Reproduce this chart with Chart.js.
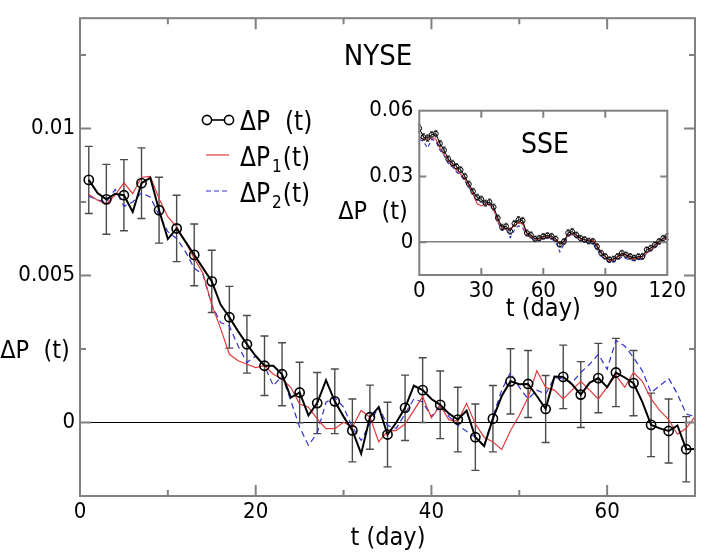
<!DOCTYPE html>
<html><head><meta charset="utf-8">
<script src="https://cdn.jsdelivr.net/npm/chart.js@4.4.1/dist/chart.umd.min.js"></script>
<style>
html,body{margin:0;padding:0;background:#fff;}
#wrap{position:relative;width:714px;height:552px;overflow:hidden;}
#main{position:absolute;left:0;top:0;}
#inset{position:absolute;left:320px;top:90px;}
</style></head><body>
<div id="wrap"><canvas id="main" width="714" height="552"></canvas><canvas id="inset" width="380" height="245"></canvas></div>
<script>
// ---------------- DATA: NYSE (main) ----------------
const days = [1,2,3,4,5,6,7,8,9,10,11,12,13,14,15,16,17,18,19,20,21,22,23,24,25,26,27,28,29,30,31,32,33,34,35,36,37,38,39,40,41,42,43,44,45,46,47,48,49,50,51,52,53,54,55,56,57,58,59,60,61,62,63,64,65,66,67,68,69,70];
const dP = [0.00825,0.0078,0.00759,0.00778,0.00773,0.00716,0.00814,0.00832,0.00722,0.00624,
            0.0066,0.00615,0.0057,0.00525,0.0048,0.00401,0.00358,0.0031,0.00266,0.00226,
            0.00193,0.00193,0.00164,0.00085,0.00102,0.00024,0.00066,0.00144,0.00072,0.0002,
            -0.00027,-0.00106,0.00018,0.00052,-0.00041,0.0,0.0005,0.00125,0.0011,0.0008,
            0.0006,0.0003,0.0001,0.0004,-0.0005,-0.0008,0.00013,0.0009,0.0014,0.0013,
            0.00131,0.0009,0.00046,0.00156,0.00155,0.0013,0.00095,0.00135,0.00151,0.0012,
            0.0017,0.00153,0.00134,0.0007,-0.00008,-0.0002,-0.00029,-0.0001,-0.00091,-0.0009];
const dP1 = [0.00775,0.00756,0.00744,0.00773,0.00815,0.00778,0.00834,0.00837,0.00761,0.00699,
             0.00665,0.00615,0.00558,0.00508,0.004,0.0032,0.00232,0.0021,0.00198,0.00187,
             0.00193,0.00164,0.00148,0.00119,0.00063,0.00052,0.00012,-0.00021,-0.00021,0.00001,
             -0.00016,0.00041,0.00018,-0.00066,-0.0003,-0.00027,-0.00005,0.00041,0.00088,0.00016,
             0.00057,0.00009,0.00005,0.00065,-0.00005,-0.0005,-0.00066,-0.00092,-0.00027,0.00024,
             0.00085,0.00176,0.0012,0.0011,0.0008,0.0011,0.0014,0.0011,0.0008,0.0012,
             0.0016,0.0012,0.0017,0.0014,0.0008,0.0004,0.0001,-0.0004,-0.0002,0.0002];
const dP2 = [0.0077,0.00757,0.0075,0.00793,0.00735,0.0075,0.00781,0.00767,0.00705,0.00649,
             0.00626,0.00581,0.00525,0.00502,0.004,0.0034,0.00328,0.0026,0.00204,0.00226,
             0.00193,0.00125,0.00159,0.00074,-0.00016,-0.00078,-0.00036,0.00069,0.00085,0.00052,
             -0.00016,-0.00061,-0.00004,0.00054,-0.0001,-0.0002,0.0003,0.0008,0.0007,0.0002,
             0.0006,0.0002,-0.0001,-0.0003,-0.0005,-0.0008,0.0002,0.0011,0.0017,0.0012,
             0.0008,0.0011,0.00097,0.00153,0.00148,0.00136,0.0017,0.00198,0.00232,0.00181,
             0.00279,0.0026,0.00221,0.00176,0.00102,0.00125,0.0015,0.00097,0.00029,0.0002];
const circleDays = [1,3,5,7,9,11,13,15,17,19,21,23,25,27,29,31,33,35,37,39,41,43,45,47,49,51,53,55,57,59,61,63,65,67,69];
const dPErr = [0.00114,0.00119,0.00121,0.0012,0.00112,0.00113,0.00105,0.00106,0.00105,0.00098,
               0.00101,0.00107,0.00103,0.00104,0.0011,0.00107,0.00109,0.0011,0.00111,0.0011,
               0.00115,0.0011,0.00113,0.00113,0.00111,0.00114,0.00114,0.00108,0.00112,0.00118,
               0.00116,0.00111,0.00108,0.00109,0.00111];
const xTickVals = [0,10,20,30,40,50,60,70];
const xTickLabels = ['0','','20','','40','','60',''];
const yTickVals = [-0.0025,0,0.0025,0.005,0.0075,0.01,0.0125];
const yTickLabels = ['','0','','0.005','','0.01',''];

// ---------------- DATA: SSE (inset) ----------------
const sseDays = [0,2,4,6,8,10,12,14,16,18,20,22,24,26,28,30,32,34,36,38,40,42,44,46,48,50,52,54,56,58,60,62,64,66,68,70,72,74,76,78,80,82,84,86,88,90,92,94,96,98,100,102,104,106,108,110,112,114,116,118,120];
const sse = [0.052,0.048,0.0475,0.049,0.0495,0.045,0.042,0.038,0.036,0.0345,
             0.033,0.03,0.0265,0.0232,0.0205,0.0196,0.0178,0.0183,0.016,0.011,
             0.0068,0.0072,0.005,0.0085,0.0102,0.0098,0.0042,0.0033,0.0015,0.0018,
             0.0026,0.003,0.0027,0.0015,-0.001,0.0003,0.0042,0.0048,0.0033,0.0018,
             0.0012,0.0005,0.0004,-0.002,-0.005,-0.0065,-0.008,-0.0077,-0.0065,-0.005,
             -0.0058,-0.0065,-0.0072,-0.0066,-0.0065,-0.0035,-0.0027,-0.0012,0.0003,0.0018,
             0.0026];
const sse1 = [0.048,0.047,0.047,0.0475,0.047,0.043,0.04,0.0375,0.035,0.033,
              0.031,0.029,0.026,0.022,0.0175,0.0165,0.0175,0.017,0.0148,0.0095,
              0.0065,0.006,0.0062,0.0075,0.0088,0.0085,0.0035,0.0028,0.0015,0.0015,
              0.0022,0.0026,0.0022,0.001,-0.0005,0.0,0.0032,0.0038,0.003,0.0015,
              0.001,0.0008,0.001,-0.0015,-0.0048,-0.0068,-0.0085,-0.008,-0.0068,-0.0055,
              -0.006,-0.007,-0.0075,-0.007,-0.0068,-0.005,-0.0035,-0.0018,0.0,0.0015,
              0.0022];
const sse2 = [0.047,0.046,0.043,0.047,0.046,0.042,0.0395,0.036,0.0345,0.032,
              0.0305,0.028,0.025,0.022,0.0195,0.0185,0.017,0.0172,0.015,0.009,
              0.0055,0.006,0.002,0.0055,0.0075,0.0065,0.003,0.002,0.0005,0.0008,
              0.0015,0.002,0.0015,0.0,-0.0045,-0.001,0.0028,0.0035,0.002,0.0008,
              0.0,-0.0005,-0.0008,-0.003,-0.0065,-0.008,-0.0095,-0.009,-0.0082,-0.0068,
              -0.0075,-0.0082,-0.0085,-0.008,-0.0078,-0.005,-0.004,-0.0025,-0.0008,0.0008,
              0.0018];
const sseErr = [0.0016,0.0016,0.0015,0.0015,0.0015,0.0015,0.0015,0.0014,0.0014,0.0014,
                0.0014,0.0014,0.0014,0.0014,0.0014,0.0014,0.0014,0.0014,0.0014,0.0014,
                0.0014,0.0014,0.0014,0.0014,0.0015,0.0015,0.0014,0.0014,0.0013,0.0013,
                0.0013,0.0013,0.0013,0.0013,0.0013,0.0013,0.0015,0.0015,0.0013,0.0013,
                0.0013,0.0013,0.0013,0.0013,0.0013,0.0013,0.0013,0.0013,0.0013,0.0013,
                0.0013,0.0013,0.0013,0.0013,0.0014,0.0013,0.0013,0.0013,0.0013,0.0013,
                0.0013];
const sseXTickVals = [0,30,60,90,120];
const sseXTickLabels = ['0','30','60','90','120'];
const sseYTickVals = [0,0.03,0.06];
const sseYTickLabels = ['0','0.03','0.06'];

// ---------------- STYLE ----------------
const FONT = '"DejaVu Sans Condensed", "Liberation Sans", sans-serif';
const FRAME = '#808080';
const ERRC = '#4a4a4a';
const RED = '#e03c3c';
const BLUE = '#3030d0';

function pts(xs, ys){ return xs.map((x,i)=>({x:x, y:ys[i]})); }
function lookup(vals, labels, v){
  for (let i=0;i<vals.length;i++) if (Math.abs(vals[i]-v) < 1e-9) return labels[i];
  return '';
}

function drawFrameTicks(chart, xv, xl, yv, yl, majLen, minLen, lw){
  const ctx = chart.ctx, a = chart.chartArea, xs = chart.scales.x, ys = chart.scales.y;
  ctx.save();
  ctx.strokeStyle = FRAME; ctx.lineWidth = lw;
  ctx.beginPath();
  xv.forEach((v,i)=>{
    const p = xs.getPixelForValue(v);
    if (p <= a.left+1 || p >= a.right-1) return;
    const L = xl[i] !== '' ? majLen : minLen;
    ctx.moveTo(p, a.bottom); ctx.lineTo(p, a.bottom - L);
    ctx.moveTo(p, a.top); ctx.lineTo(p, a.top + L);
  });
  yv.forEach((v,i)=>{
    const p = ys.getPixelForValue(v);
    if (p <= a.top+1 || p >= a.bottom-1) return;
    const L = yl[i] !== '' ? majLen : minLen;
    ctx.moveTo(a.left, p); ctx.lineTo(a.left + L, p);
    ctx.moveTo(a.right, p); ctx.lineTo(a.right - L, p);
  });
  ctx.stroke();
  ctx.strokeRect(a.left, a.top, a.right - a.left, a.bottom - a.top);
  ctx.restore();
}

function drawErrors(chart, xsArr, ysArr, errs, half, lw){
  const ctx = chart.ctx, xs = chart.scales.x, ys = chart.scales.y;
  ctx.save(); ctx.strokeStyle = ERRC; ctx.lineWidth = lw;
  ctx.beginPath();
  xsArr.forEach((d,i)=>{
    const px = xs.getPixelForValue(d);
    const t = ys.getPixelForValue(ysArr[i] + errs[i]);
    const b = ys.getPixelForValue(ysArr[i] - errs[i]);
    ctx.moveTo(px, t); ctx.lineTo(px, b);
    ctx.moveTo(px-half, t); ctx.lineTo(px+half, t);
    ctx.moveTo(px-half, b); ctx.lineTo(px+half, b);
  });
  ctx.stroke(); ctx.restore();
}

const circleVals = circleDays.map(d => dP[days.indexOf(d)]);

// ---------------- MAIN CHART ----------------
const mainDeco = {
  id: 'mainDeco',
  beforeDatasetsDraw(chart){
    drawErrors(chart, circleDays, circleVals, dPErr, 4, 1.4);
  },
  afterDraw(chart){
    drawFrameTicks(chart, xTickVals, xTickLabels, yTickVals, yTickLabels, 11, 6, 2);
    const ctx = chart.ctx;
    ctx.save();
    ctx.fillStyle = '#000';
    ctx.textBaseline = 'alphabetic';
    ctx.textAlign = 'center';
    ctx.font = '29px ' + FONT; ctx.fillText('NYSE', 378, 65);
    ctx.font = '25px ' + FONT; ctx.fillText('t (day)', 388, 545);
    ctx.fillText('\u0394P  (t)', 35, 358);
    // legend
    ctx.textAlign = 'left';
    // entry 1: circle-line-circle
    ctx.strokeStyle = '#000'; ctx.lineWidth = 1.6;
    ctx.beginPath(); ctx.arc(207, 120, 4.6, 0, Math.PI*2); ctx.stroke();
    ctx.beginPath(); ctx.arc(229, 120, 4.6, 0, Math.PI*2); ctx.stroke();
    ctx.beginPath(); ctx.moveTo(211.6, 120); ctx.lineTo(224.4, 120); ctx.stroke();
    ctx.font = '26px ' + FONT; ctx.fillText('\u0394P  (t)', 240, 130);
    // entry 2: red line
    ctx.strokeStyle = RED; ctx.lineWidth = 1.2;
    ctx.beginPath(); ctx.moveTo(206, 155); ctx.lineTo(229, 155); ctx.stroke();
    // entry 3: blue dashed
    ctx.strokeStyle = BLUE; ctx.setLineDash([5,3]);
    ctx.beginPath(); ctx.moveTo(206, 191); ctx.lineTo(229, 191); ctx.stroke();
    ctx.setLineDash([]);
    [['1',166],['2',202]].forEach(([sub, by])=>{
      ctx.font = '26px ' + FONT;
      ctx.fillText('\u0394P', 240, by);
      const w = ctx.measureText('\u0394P').width;
      ctx.font = '17px ' + FONT;
      ctx.fillText(sub, 240 + w + 2, by + 6);
      const w1 = ctx.measureText(sub).width;
      ctx.font = '26px ' + FONT;
      ctx.fillText('(t)', 240 + w + 2 + w1 + 1, by);
    });
    ctx.restore();
  }
};

new Chart(document.getElementById('main'), {
  type: 'line',
  data: {
    datasets: [
      { data: pts(circleDays, circleVals), showLine: false, pointStyle: 'circle',
        pointRadius: 4.6, pointBorderWidth: 1.6, pointBorderColor: '#000',
        pointBackgroundColor: 'rgba(0,0,0,0)', borderColor: '#000' },
      { data: pts(days, dP), borderColor: '#000', borderWidth: 2, pointRadius: 0, tension: 0, fill: false },
      { data: pts(days, dP1), borderColor: RED, borderWidth: 1.2, pointRadius: 0, tension: 0, fill: false },
      { data: pts(days, dP2), borderColor: BLUE, borderWidth: 1.2, borderDash: [6,4], pointRadius: 0, tension: 0, fill: false }
    ]
  },
  options: {
    responsive: false, animation: false, devicePixelRatio: 1,
    layout: { padding: { left: 0, right: 19, top: 14, bottom: 0 } },
    plugins: { legend: { display: false }, tooltip: { enabled: false } },
    scales: {
      x: {
        type: 'linear', min: 0, max: 70,
        afterBuildTicks: s => { s.ticks = xTickVals.map(v => ({ value: v })); },
        afterFit: s => { s.height = 56; },
        ticks: { autoSkip: false, maxRotation: 0, padding: 3, color: '#000',
                 font: { family: FONT, size: 22 },
                 callback: v => lookup(xTickVals, xTickLabels, v) },
        grid: { display: false, drawTicks: false },
        border: { display: false }
      },
      y: {
        type: 'linear', min: -0.0025, max: 0.01375,
        afterBuildTicks: s => { s.ticks = yTickVals.map(v => ({ value: v })); },
        afterFit: s => { s.width = 80; },
        ticks: { autoSkip: false, padding: 5, color: '#000',
                 font: { family: FONT, size: 22 },
                 callback: v => lookup(yTickVals, yTickLabels, v) },
        grid: { drawTicks: false, lineWidth: 1,
                color: c => (c.tick && Math.abs(c.tick.value) < 1e-12) ? '#000' : 'rgba(0,0,0,0)' },
        border: { display: false }
      }
    }
  },
  plugins: [mainDeco]
});

// ---------------- INSET CHART ----------------
const insetDeco = {
  id: 'insetDeco',
  beforeDraw(chart){
    const a = chart.chartArea, ctx = chart.ctx;
    ctx.save(); ctx.fillStyle = '#fff';
    ctx.fillRect(a.left, a.top, a.right - a.left, a.bottom - a.top);
    ctx.restore();
  },
  beforeDatasetsDraw(chart){
    drawErrors(chart, sseDays, sse, sseErr, 1.6, 0.9);
  },
  afterDraw(chart){
    drawFrameTicks(chart, sseXTickVals, sseXTickLabels, sseYTickVals, sseYTickLabels, 7, 4, 2);
    const ctx = chart.ctx;
    ctx.save();
    ctx.fillStyle = '#000'; ctx.textAlign = 'center'; ctx.textBaseline = 'alphabetic';
    ctx.font = '28px ' + FONT; ctx.fillText('SSE', 225, 63);
    ctx.font = '25px ' + FONT; ctx.fillText('t (day)', 223.3, 226);
    ctx.fillText('\u0394P  (t)', 53, 129);
    ctx.restore();
  }
};

new Chart(document.getElementById('inset'), {
  type: 'line',
  data: {
    datasets: [
      { data: pts(sseDays, sse), borderColor: '#000', borderWidth: 1, pointRadius: 2.4,
        pointBorderWidth: 1, pointBorderColor: '#000', pointBackgroundColor: 'rgba(0,0,0,0)',
        tension: 0, fill: false },
      { data: pts(sseDays, sse1), borderColor: RED, borderWidth: 1.1, pointRadius: 0, tension: 0, fill: false },
      { data: pts(sseDays, sse2), borderColor: BLUE, borderWidth: 1.1, borderDash: [4,3], pointRadius: 0, tension: 0, fill: false }
    ]
  },
  options: {
    responsive: false, animation: false, devicePixelRatio: 1,
    layout: { padding: { left: 0, right: 32.7, top: 20.7, bottom: 0 } },
    plugins: { legend: { display: false }, tooltip: { enabled: false } },
    scales: {
      x: {
        type: 'linear', min: 0, max: 120,
        afterBuildTicks: s => { s.ticks = sseXTickVals.map(v => ({ value: v })); },
        afterFit: s => { s.height = 60; },
        ticks: { autoSkip: false, maxRotation: 0, padding: 3, color: '#000',
                 font: { family: FONT, size: 22 },
                 callback: v => lookup(sseXTickVals, sseXTickLabels, v) },
        grid: { display: false, drawTicks: false },
        border: { display: false }
      },
      y: {
        type: 'linear', min: -0.015, max: 0.06,
        afterBuildTicks: s => { s.ticks = sseYTickVals.map(v => ({ value: v })); },
        afterFit: s => { s.width = 99.3; },
        ticks: { autoSkip: false, padding: 6, color: '#000',
                 font: { family: FONT, size: 22 },
                 callback: v => lookup(sseYTickVals, sseYTickLabels, v) },
        grid: { drawTicks: false, lineWidth: 1.5,
                color: c => (c.tick && Math.abs(c.tick.value) < 1e-12) ? FRAME : 'rgba(0,0,0,0)' },
        border: { display: false }
      }
    }
  },
  plugins: [insetDeco]
});
</script>
</body></html>
